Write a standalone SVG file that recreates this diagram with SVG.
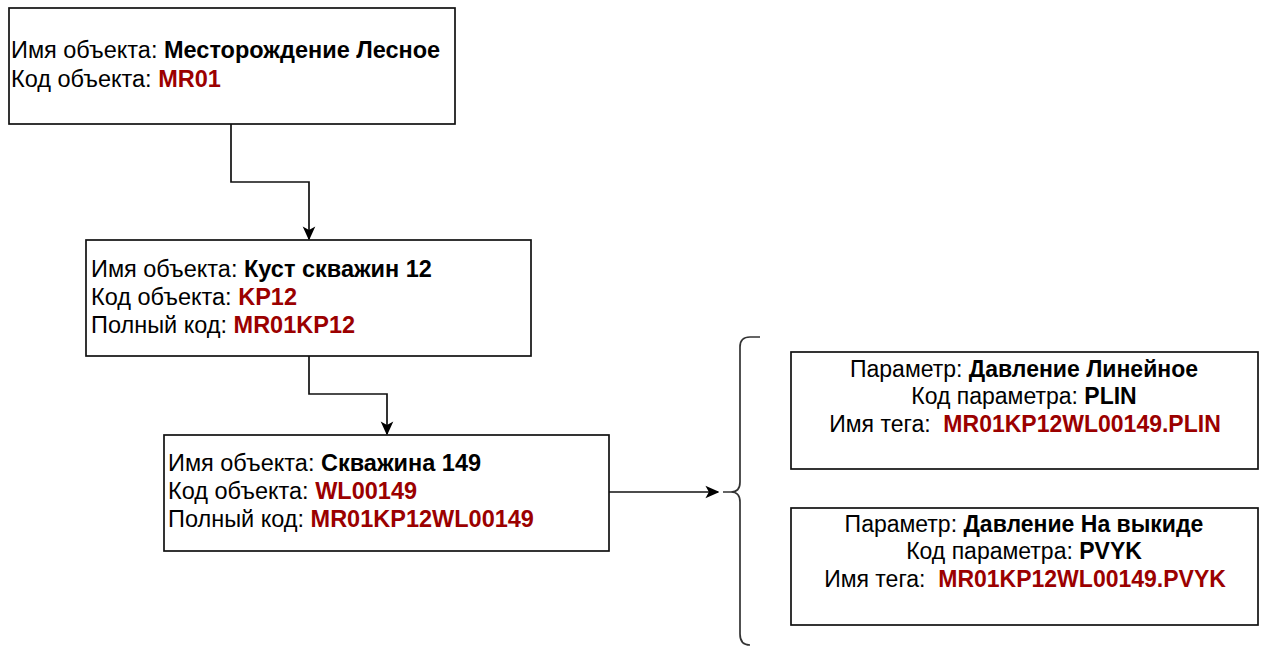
<svg xmlns="http://www.w3.org/2000/svg" width="1262" height="646" viewBox="0 0 1262 646">
<defs>
<style>
.box{fill:#fff;stroke:#111;stroke-width:1.7}
.t{font-family:"Liberation Sans",Arial,sans-serif;font-size:23.5px;fill:#000}
.s{font-size:23px}
.b{font-weight:bold}
.r{font-weight:bold;fill:#9b0000}
.c{text-anchor:middle}
.ln{fill:none;stroke:#111;stroke-width:1.7}
.br{fill:none;stroke:#333;stroke-width:1.7}
</style>
<marker id="ah" viewBox="0 0 10 10" refX="9" refY="5" markerWidth="14" markerHeight="14" markerUnits="userSpaceOnUse" orient="auto">
<path d="M0,0.5 L10,5 L0,9.5 L2.5,5 Z" fill="#000"/>
</marker>
</defs>
<rect width="1262" height="646" fill="#fff"/>
<g id="connectors">
<path class="ln" d="M231,124 V182 H309 V239" marker-end="url(#ah)"/>
<path class="ln" d="M309,356 V394 H387 V434" marker-end="url(#ah)"/>
<path class="ln" d="M609,492 H718" marker-end="url(#ah)"/>
<path id="brace" class="br" d="M760,337 H750 Q740,337 740,347 V482 Q740,492 731,492 H723 M731,492 Q740,492 740,502 V634 Q740,645 750,645"/>
</g>
<g id="node-mr01">
<rect class="box" x="9" y="8" width="446" height="116"/>
<text class="t" x="11" y="58">Имя объекта: <tspan class="b">Месторождение Лесное</tspan></text>
<text class="t" x="11" y="87">Код объекта: <tspan class="r">MR01</tspan></text>
</g>
<g id="node-kp12">
<rect class="box" x="86" y="240" width="445" height="116"/>
<text class="t" x="91" y="277">Имя объекта: <tspan class="b">Куст скважин 12</tspan></text>
<text class="t" x="91" y="305">Код объекта: <tspan class="r">KP12</tspan></text>
<text class="t" x="91" y="333">Полный код: <tspan class="r">MR01KP12</tspan></text>
</g>
<g id="node-wl00149">
<rect class="box" x="164" y="435" width="445" height="116"/>
<text class="t" x="168" y="471">Имя объекта: <tspan class="b">Скважина 149</tspan></text>
<text class="t" x="168" y="499">Код объекта: <tspan class="r">WL00149</tspan></text>
<text class="t" x="168" y="527">Полный код: <tspan class="r">MR01KP12WL00149</tspan></text>
</g>
<g id="node-plin">
<rect class="box" x="791" y="352" width="467" height="117"/>
<text class="t s c" x="1024" y="377">Параметр: <tspan class="b">Давление Линейное</tspan></text>
<text class="t s c" x="1024" y="404">Код параметра: <tspan class="b">PLIN</tspan></text>
<text class="t s c" x="1025" y="432" xml:space="preserve">Имя тега:  <tspan class="r">MR01KP12WL00149.PLIN</tspan></text>
</g>
<g id="node-pvyk">
<rect class="box" x="791" y="508" width="467" height="117"/>
<text class="t s c" x="1024" y="532">Параметр: <tspan class="b">Давление На выкиде</tspan></text>
<text class="t s c" x="1024" y="559">Код параметра: <tspan class="b">PVYK</tspan></text>
<text class="t s c" x="1025" y="587" xml:space="preserve">Имя тега:  <tspan class="r">MR01KP12WL00149.PVYK</tspan></text>
</g>
</svg>
